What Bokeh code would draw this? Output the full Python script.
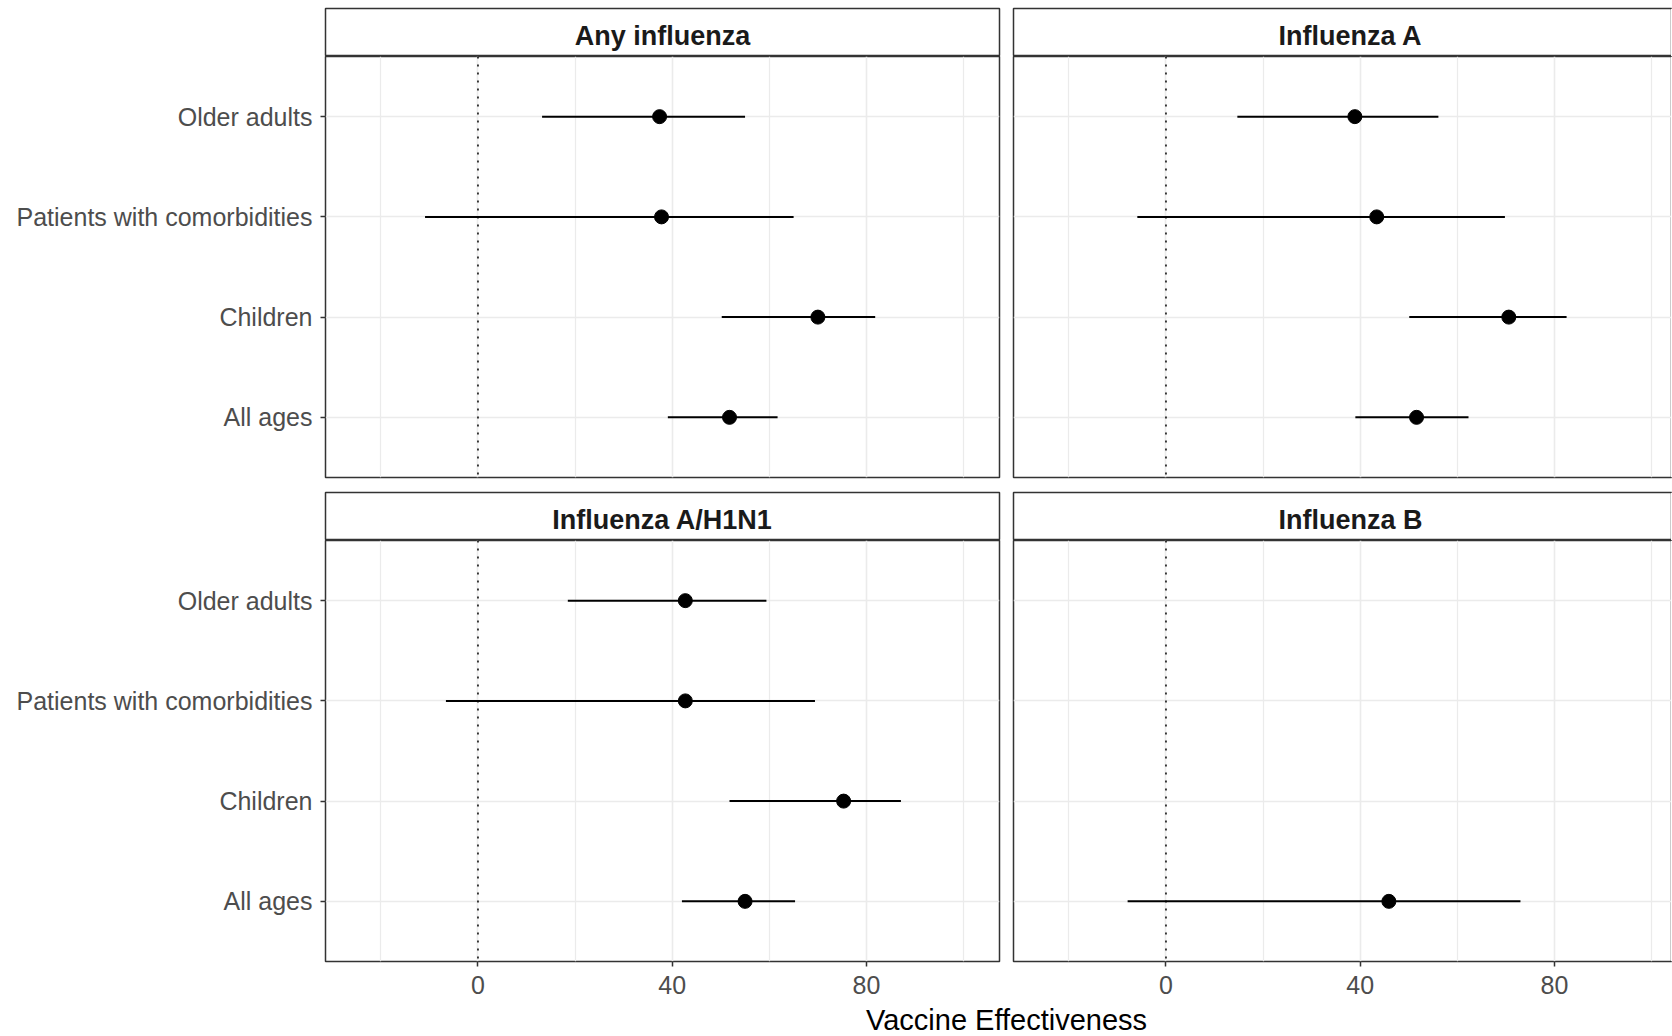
from bokeh.plotting import figure
from bokeh.layouts import column, row
from bokeh.models import Range1d, FixedTicker, Span, Label, ColumnDataSource
from bokeh.embed import file_html
from bokeh.resources import INLINE

# ---------------- data ----------------
categories = ["All ages", "Children", "Patients with comorbidities", "Older adults"]  # bottom -> top
panel_titles = ["Any influenza", "Influenza A", "Influenza A/H1N1", "Influenza B"]

any_groups = ["Older adults", "Patients with comorbidities", "Children", "All ages"]
any_ve = [37.4, 37.8, 70.0, 51.8]
any_lower = [13.2, -10.9, 50.2, 39.1]
any_upper = [55.0, 65.0, 81.8, 61.7]

fluA_groups = ["Older adults", "Patients with comorbidities", "Children", "All ages"]
fluA_ve = [38.9, 43.4, 70.6, 51.6]
fluA_lower = [14.7, -5.9, 50.1, 39.0]
fluA_upper = [56.1, 69.8, 82.5, 62.3]

h1n1_groups = ["Older adults", "Patients with comorbidities", "Children", "All ages"]
h1n1_ve = [42.7, 42.7, 75.3, 55.0]
h1n1_lower = [18.5, -6.6, 51.8, 42.0]
h1n1_upper = [59.4, 69.4, 87.1, 65.3]

fluB_groups = ["All ages"]
fluB_ve = [45.9]
fluB_lower = [-7.9]
fluB_upper = [73.0]

x_ticks = [0, 40, 80]
x_minor_ticks = [-20, 20, 60, 100]
x_limits = (-31.4, 107.4)
y_limits = (0.4, 4.6)
reference_line = 0
x_title = "Vaccine Effectiveness"

# ---------------- style / layout ----------------
FONT = "Liberation Sans"
BORDER = "#333333"
GRID = "#EBEBEB"
TOTAL_W = 1672
TOTAL_H = 1036
LEFT_AXIS_W = 325
FRAME_W = 674
GAP = 7
FRAME_W_RIGHT = TOTAL_W - (LEFT_AXIS_W + FRAME_W + GAP) - GAP
PANEL_H = 421
STRIP_TOP_MB = 8
STRIP_H = 48
ROW_GAP = 14
AXIS_H = 42
STRIP_TEXT_Y = 20.8
TITLE_H = TOTAL_H - (STRIP_TOP_MB + STRIP_H + PANEL_H + ROW_GAP + 1 + STRIP_H + PANEL_H + AXIS_H)


def x_range_for(col):
    lo, hi = x_limits
    if col == 0:
        return Range1d(lo, hi)
    return Range1d(lo, lo + (hi - lo) * FRAME_W_RIGHT / FRAME_W)


def col_dims(col):
    if col == 0:
        return LEFT_AXIS_W + FRAME_W + GAP, LEFT_AXIS_W, GAP
    return GAP + FRAME_W_RIGHT, GAP, 0


def style_axis(ax, standoff):
    ax.axis_line_color = None
    ax.major_tick_line_color = BORDER
    ax.major_tick_line_width = 1.5
    ax.major_tick_in = 0
    ax.major_tick_out = 5
    ax.minor_tick_line_color = None
    ax.major_label_text_font = FONT
    ax.major_label_text_font_size = "25px"
    ax.major_label_text_color = "#4D4D4D"
    ax.major_label_standoff = standoff


def hide_right_edge(fig, xr):
    # the reference is cropped at the right: no right border on the right-hand panels
    fig.add_layout(Span(location=xr.end, dimension="height", line_color="white",
                        line_width=3, level="overlay"))


def make_panel(col, is_bottom, xr, groups, ve, lower, upper):
    w, ml, mr = col_dims(col)
    mb = AXIS_H if is_bottom else ROW_GAP
    p = figure(width=w, height=PANEL_H + mb, x_range=xr, y_range=Range1d(*y_limits),
               min_border_left=ml, min_border_right=mr, min_border_top=0, min_border_bottom=mb,
               x_axis_location="below" if is_bottom else None,
               y_axis_location="left" if col == 0 else None,
               output_backend="svg", toolbar_location=None, title=None,
               background_fill_color="white", border_fill_color="white")
    xt = FixedTicker(ticks=x_ticks, minor_ticks=x_minor_ticks)
    yt = FixedTicker(ticks=[i + 1 for i in range(len(categories))])
    p.xgrid.ticker = xt
    p.ygrid.ticker = yt
    p.xgrid.grid_line_color = GRID
    p.xgrid.grid_line_width = 1.6
    p.xgrid.minor_grid_line_color = GRID
    p.xgrid.minor_grid_line_width = 1.2
    p.ygrid.grid_line_color = GRID
    p.ygrid.grid_line_width = 1.6
    if is_bottom:
        p.xaxis.ticker = xt
        style_axis(p.xaxis[0], 9)
    if col == 0:
        p.yaxis.ticker = yt
        p.yaxis.major_label_overrides = {i + 1: c for i, c in enumerate(categories)}
        style_axis(p.yaxis[0], 8)
    p.outline_line_color = BORDER
    p.outline_line_width = 1.5

    pos = [categories.index(g) + 1 for g in groups]
    src = ColumnDataSource(dict(pos=pos, ve=ve, lower=lower, upper=upper))
    p.add_layout(Span(location=reference_line, dimension="height", line_color="black",
                      line_width=1.5, line_dash="2 6", level="underlay"))
    p.segment(x0="lower", y0="pos", x1="upper", y1="pos", source=src,
              line_color="black", line_width=2)
    p.scatter(x="ve", y="pos", source=src, size=14, color="black")
    if col == 1:
        hide_right_edge(p, xr)
    return p


def make_strip(col, is_top, xr, text):
    w, ml, mr = col_dims(col)
    mt = STRIP_TOP_MB if is_top else 1
    h = STRIP_H + mt
    s = figure(width=w, height=h, x_range=xr, y_range=Range1d(0, STRIP_H),
               min_border_left=ml, min_border_right=mr, min_border_top=mt, min_border_bottom=0,
               x_axis_location=None, y_axis_location=None,
               output_backend="svg", toolbar_location=None, title=None,
               background_fill_color="white", border_fill_color="white")
    s.grid.visible = False
    s.outline_line_color = BORDER
    s.outline_line_width = 1.5
    s.add_layout(Label(x=(x_limits[0] + x_limits[1]) / 2, y=STRIP_TEXT_Y, text=text,
                       text_align="center", text_baseline="middle", text_font=FONT,
                       text_font_style="bold", text_font_size="27px", text_color="#1A1A1A"))
    if col == 1:
        hide_right_edge(s, xr)
    return s


xr_l_top, xr_r_top = x_range_for(0), x_range_for(1)
xr_l_bot, xr_r_bot = x_range_for(0), x_range_for(1)

s1 = make_strip(0, True, xr_l_top, panel_titles[0])
s2 = make_strip(1, True, xr_r_top, panel_titles[1])
p1 = make_panel(0, False, xr_l_top, any_groups, any_ve, any_lower, any_upper)
p2 = make_panel(1, False, xr_r_top, fluA_groups, fluA_ve, fluA_lower, fluA_upper)
s3 = make_strip(0, False, xr_l_bot, panel_titles[2])
s4 = make_strip(1, False, xr_r_bot, panel_titles[3])
p3 = make_panel(0, True, xr_l_bot, h1n1_groups, h1n1_ve, h1n1_lower, h1n1_upper)
p4 = make_panel(1, True, xr_r_bot, fluB_groups, fluB_ve, fluB_lower, fluB_upper)

t = figure(width=TOTAL_W, height=TITLE_H, x_range=Range1d(0, TOTAL_W), y_range=Range1d(0, TITLE_H),
           x_axis_location=None, y_axis_location=None, min_border=0,
           output_backend="svg", toolbar_location=None, title=None,
           background_fill_color="white", border_fill_color="white")
t.grid.visible = False
t.outline_line_color = None
center_x = (LEFT_AXIS_W + (LEFT_AXIS_W + FRAME_W + 2 * GAP + FRAME_W)) / 2
t.add_layout(Label(x=center_x, y=TITLE_H / 2, text=x_title, text_align="center",
                   text_baseline="middle", text_font=FONT, text_font_size="29px",
                   text_color="black"))

layout = column(row(s1, s2), row(p1, p2), row(s3, s4), row(p3, p4), t)

open("out.html", "w").write(file_html(layout, INLINE))
